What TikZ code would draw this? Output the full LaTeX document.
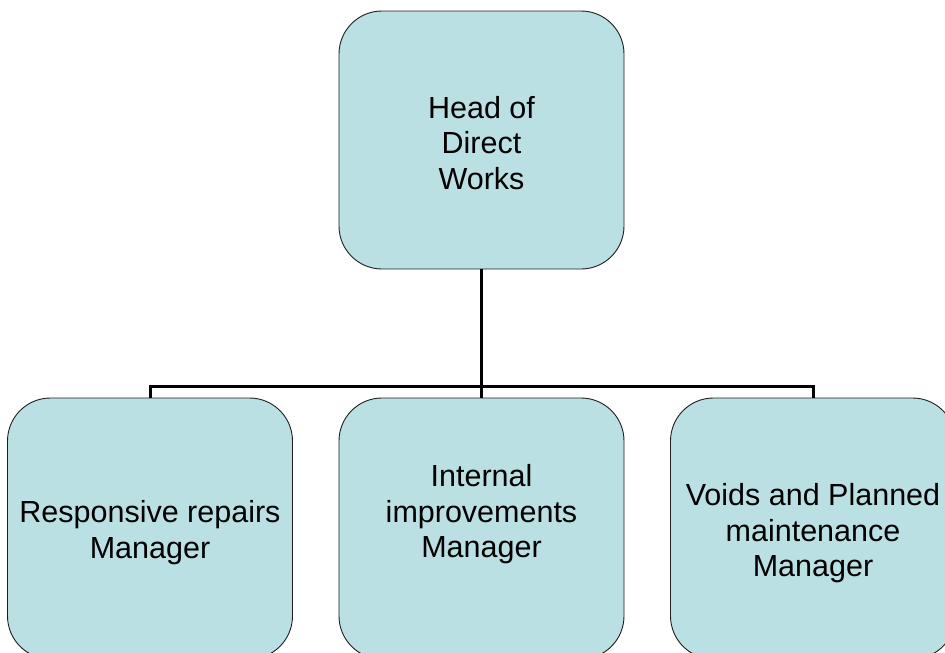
\documentclass[tikz,border=0pt]{standalone}
\usepackage{fontspec}
\setmainfont{Liberation Sans}
\definecolor{boxfill}{RGB}{187,224,227}
\definecolor{boxline}{RGB}{30,30,30}
\begin{document}
\begin{tikzpicture}[x=1pt,y=-1pt,
  orgbox/.style={draw=boxline, fill=boxfill, line width=0.9pt,
    rounded corners=43pt, minimum width=285pt, inner sep=0pt},
  topbox/.style={orgbox, minimum height=258pt},
  lowbox/.style={orgbox, minimum height=261pt},
  caption/.style={align=center, inner sep=0pt,
    font=\fontsize{30.5}{35.5}\selectfont},
  conn/.style={draw=black, line width=3pt, line join=miter}]
  \useasboundingbox (0,0) rectangle (945,653);
  \clip (0,0) rectangle (945,653);

  % height of the horizontal bus line
  \coordinate (bus) at (0,386);

  % boxes
  \node[topbox] (head) at (481.5,140) {};
  \node[lowbox] (resp) at (150,528.5) {};
  \node[lowbox] (intl) at (481.5,528.5) {};
  \node[lowbox] (void) at (813,528.5) {};

  % connectors
  \draw[conn] (head.south) -- (intl.north);
  \draw[conn] (resp.north) -- (resp.north |- bus) -- (void.north |- bus) -- (void.north);

  % captions
  \node[caption] (headT) at ([yshift=-3pt]head.center) {Head of\\Direct\\Works};
  \node[caption] (respT) at ([yshift=-4pt]resp.center) {Responsive repairs\\Manager};
  \node[caption] (intlT) at ([yshift=14pt]intl.center) {Internal\\improvements\\Manager};
  \node[caption] (voidT) at ([yshift=-5pt]void.center) {Voids and Planned\\maintenance\\Manager};
\end{tikzpicture}
\end{document}
